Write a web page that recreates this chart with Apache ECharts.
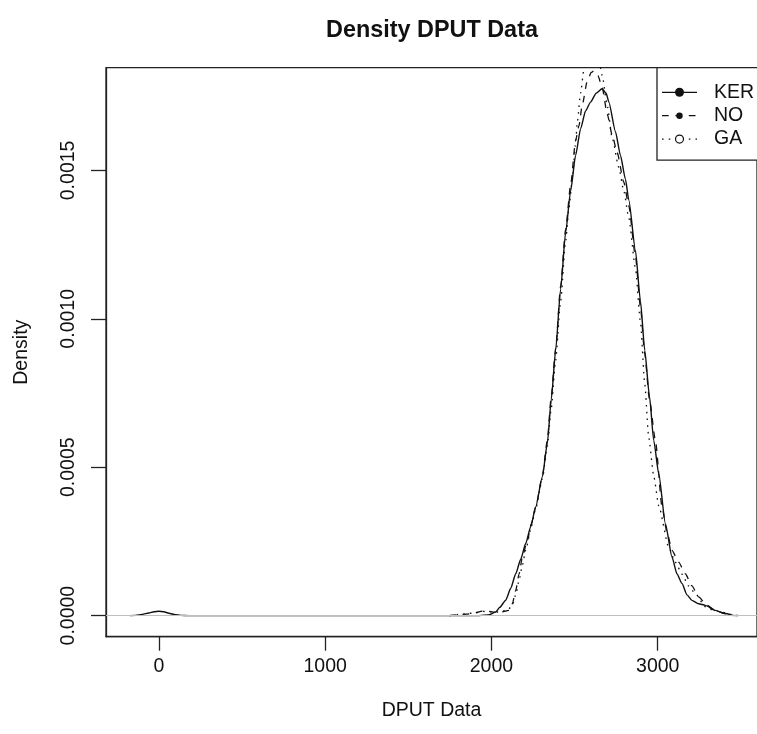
<!DOCTYPE html>
<html><head><meta charset="utf-8">
<script src="https://cdn.jsdelivr.net/npm/echarts@6/dist/echarts.min.js"></script>
<style>html,body{margin:0;padding:0;background:#fff}#c{width:757px;height:734px}</style>
</head><body><div id="c"></div>
<script>
const titleText = 'Density DPUT Data';
const xName = 'DPUT Data';
const yName = 'Density';
const xTicks = [0, 1000, 2000, 3000];
const yTicks = [0, 0.0005, 0.0010, 0.0015];
const legendNames = ['KER', 'NO', 'GA'];

const kerData = [[-174,0],[-140,0.000001],[-100,0.000004],[-60,0.000009],[-30,0.000013],[0,0.0000145],[30,0.000013],[60,0.000008],[100,0.000003],[130,0.000001],[180,0],[600,0],[1200,0],[1900,0],[1980,0.000002],[2026,0.000012],[2050,0.000028],[2086,0.000052],[2116,0.000092],[2146,0.000141],[2176,0.00019],[2206,0.000243],[2236,0.0003],[2266,0.000366],[2306,0.000467],[2336,0.00058],[2360,0.00073],[2386,0.000894],[2416,0.0011],[2446,0.00129],[2476,0.00143],[2506,0.00155],[2536,0.00164],[2566,0.00170],[2596,0.00173],[2630,0.00176],[2665,0.001775],[2690,0.00176],[2706,0.00173],[2746,0.00163],[2776,0.00155],[2806,0.00147],[2826,0.0014],[2866,0.00123],[2896,0.00106],[2922,0.000894],[2950,0.00074],[2976,0.00059],[3006,0.000478],[3046,0.00031],[3086,0.000197],[3116,0.00014],[3146,0.000108],[3176,0.00007],[3206,0.0000515],[3246,0.00004],[3286,0.0000347],[3346,0.0000178],[3400,0.000008],[3452,0]];

const noData = [[1746,0],[1800,0.000003],[1850,0.000005],[1886,0.000007],[1946,0.000015],[1990,0.000014],[2016,0.000012],[2060,0.000012],[2106,0.000018],[2126,0.00004],[2146,0.000085],[2166,0.00014],[2186,0.000197],[2216,0.000254],[2240,0.00031],[2266,0.000366],[2306,0.00047],[2336,0.00059],[2360,0.00074],[2386,0.0009],[2416,0.00111],[2446,0.0013],[2476,0.00145],[2506,0.0016],[2526,0.00165],[2546,0.00172],[2576,0.0018],[2600,0.00183],[2616,0.001835],[2640,0.00182],[2666,0.00178],[2696,0.00169],[2726,0.00162],[2756,0.00156],[2796,0.00146],[2826,0.00138],[2866,0.00121],[2896,0.00104],[2922,0.00088],[2950,0.00073],[2986,0.00059],[3026,0.000366],[3056,0.00028],[3086,0.00022],[3126,0.00018],[3166,0.000141],[3206,0.0001],[3246,0.000063],[3296,0.000035],[3346,0.000018],[3400,0.000007],[3446,0.000001],[3480,0]];

const gaData = [[1750,0],[1800,0.000004],[1850,0.000006],[1900,0.00001],[1950,0.000014],[2000,0.000013],[2050,0.000012],[2100,0.00002],[2126,0.000035],[2146,0.00007],[2166,0.000119],[2186,0.00017],[2206,0.00022],[2236,0.00029],[2266,0.00036],[2306,0.00046],[2336,0.00057],[2360,0.0007],[2386,0.00086],[2416,0.00106],[2446,0.00126],[2466,0.00137],[2486,0.00147],[2506,0.00159],[2516,0.00166],[2536,0.00176],[2556,0.00184],[2580,0.0019],[2605,0.00192],[2630,0.0019],[2650,0.00186],[2666,0.00182],[2696,0.00172],[2726,0.00161],[2766,0.00151],[2796,0.00143],[2826,0.00134],[2866,0.00117],[2896,0.00099],[2922,0.00078],[2946,0.0006],[2976,0.00047],[3006,0.00037],[3066,0.00023],[3106,0.00018],[3146,0.00014],[3186,0.0001],[3226,0.000074],[3286,0.00003],[3336,0.000018],[3386,0.000012],[3440,0.000004],[3486,0]];

const FONT = '"Liberation Sans", Arial, Helvetica, sans-serif';
const INK = '#111';
const chart = echarts.init(document.getElementById('c'), null, {renderer: 'canvas'});

const legendY = [92.3, 115.7, 139.1];
const legendLine = [
  {lineDash: null, sym: {r: 4.5, fill: INK, stroke: null}},
  {lineDash: [6.7, 6.7], sym: {r: 3.2, fill: INK, stroke: null}},
  {lineDash: [1.6, 5.1], sym: {r: 4, fill: '#fff', stroke: INK}}
];
const legendGraphics = [{
  type: 'rect', shape: {x: 657, y: 67.7, width: 130, height: 92.5},
  style: {fill: '#fff', stroke: '#222', lineWidth: 1.3}, z: 100
}];
legendNames.forEach((n, i) => {
  const y = legendY[i];
  legendGraphics.push({type: 'line', shape: {x1: 662, y1: y, x2: 697, y2: y},
    style: {stroke: INK, lineWidth: 1.3, lineDash: legendLine[i].lineDash}, z: 101});
  legendGraphics.push({type: 'circle', shape: {cx: 679.5, cy: y, r: legendLine[i].sym.r},
    style: {fill: legendLine[i].sym.fill, stroke: legendLine[i].sym.stroke, lineWidth: 1.2}, z: 102});
  legendGraphics.push({type: 'text', x: 714, y: y,
    style: {text: n, font: '19.5px ' + FONT, fill: INK, verticalAlign: 'middle', align: 'left'}, z: 102});
});

const option = {
  animation: false,
  backgroundColor: '#fff',
  grid: {left: 106, top: 67.7, width: 652, height: 569, show: true, borderColor: '#222', borderWidth: 1.3, backgroundColor: 'transparent'},
  graphic: [{
    type: 'text', x: 432, y: 31,
    style: {text: titleText, font: 'bold 23.4px ' + FONT, fill: INK, align: 'center', verticalAlign: 'middle'}
  }].concat(legendGraphics),
  xAxis: {
    type: 'value', min: -318, max: 3597,
    name: xName, nameLocation: 'middle', nameGap: 64,
    nameTextStyle: {fontFamily: FONT, fontSize: 19.5, color: INK},
    axisLine: {show: true, onZero: false, lineStyle: {color: '#222', width: 1.3}},
    axisTick: {show: true, inside: false, length: 14, customValues: xTicks, lineStyle: {color: '#222', width: 1.3}},
    axisLabel: {show: true, margin: 20, customValues: xTicks, fontFamily: FONT, fontSize: 19.5, color: INK,
      formatter: v => String(v)},
    splitLine: {show: false}
  },
  yAxis: {
    type: 'value', min: -0.000071, max: 0.001846,
    name: yName, nameLocation: 'middle', nameGap: 74, nameRotate: 90,
    nameTextStyle: {fontFamily: FONT, fontSize: 19.5, color: INK},
    axisLine: {show: true, onZero: false, lineStyle: {color: '#222', width: 1.3}},
    axisTick: {show: true, inside: false, length: 15, customValues: yTicks, lineStyle: {color: '#222', width: 1.3}},
    axisLabel: {show: true, margin: 27, rotate: 90, customValues: yTicks, fontFamily: FONT, fontSize: 19.5, color: INK,
      formatter: v => Number(v).toFixed(4)},
    splitLine: {show: false}
  },
  series: [
    {name: 'KER', type: 'line', data: kerData, showSymbol: false, smooth: 0.2, smoothMonotone: 'x', clip: true,
      lineStyle: {color: INK, width: 1.4, type: 'solid'}, z: 2},
    {name: 'NO', type: 'line', data: noData, showSymbol: false, smooth: 0.2, smoothMonotone: 'x', clip: true,
      lineStyle: {color: INK, width: 1.3, type: [6.7, 6.7]}, z: 2},
    {name: 'GA', type: 'line', data: gaData, showSymbol: false, smooth: 0.2, smoothMonotone: 'x', clip: true,
      lineStyle: {color: INK, width: 1.3, type: [1.6, 5.1]}, z: 2},
    {name: 'zero', type: 'line', data: [], z: 5, silent: true,
      markLine: {silent: true, symbol: ['none', 'none'], label: {show: false},
        lineStyle: {color: '#bebebe', width: 1.2, type: 'solid'}, data: [{yAxis: 0}]}}
  ]
};
chart.setOption(option);
</script>
</body></html>
